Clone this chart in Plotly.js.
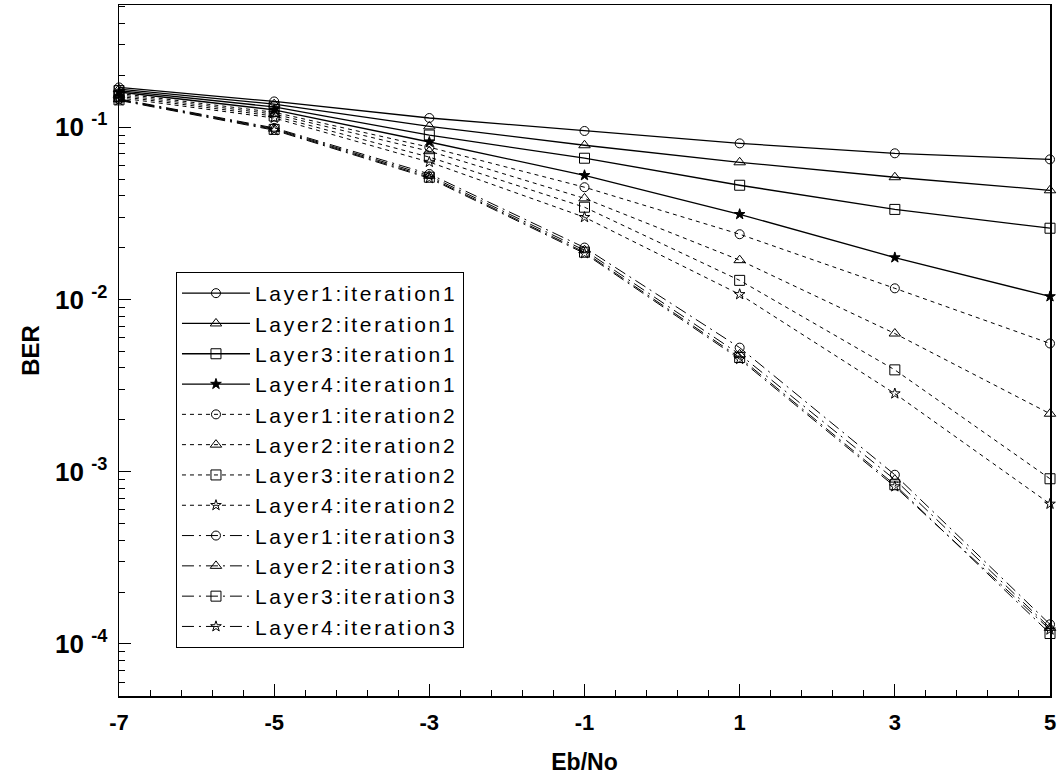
<!DOCTYPE html>
<html>
<head>
<meta charset="utf-8">
<script src="https://cdn.plot.ly/plotly-3.0.1.min.js"></script>
<style>
  html, body { margin: 0; padding: 0; background: #fff; }
  #chart { width: 1058px; height: 780px; }
  .legendtext { letter-spacing: 2.7px; }
</style>
</head>
<body>
<div id="chart"></div>
<script>
// Eb/No (dB)
const ebno = [-7, -5, -3, -1, 1, 3, 5];

// BER values
const layer1_it1 = [0.170, 0.141, 0.113, 0.095, 0.0805, 0.0705, 0.0650];
const layer2_it1 = [0.166, 0.136, 0.101, 0.0785, 0.0625, 0.0512, 0.0430];
const layer3_it1 = [0.163, 0.131, 0.090, 0.066, 0.0460, 0.0333, 0.0259];
const layer4_it1 = [0.160, 0.126, 0.082, 0.0525, 0.0312, 0.0175, 0.0104];
const layer1_it2 = [0.157, 0.122, 0.0765, 0.0448, 0.0239, 0.0116, 0.00555];
const layer2_it2 = [0.154, 0.119, 0.0725, 0.0386, 0.0169, 0.00634, 0.00217];
const layer3_it2 = [0.151, 0.116, 0.0670, 0.0343, 0.0129, 0.0039, 0.00091];
const layer4_it2 = [0.148, 0.113, 0.0627, 0.0300, 0.0107, 0.00284, 0.00065];
const layer1_it3 = [0.146, 0.099, 0.0535, 0.0200, 0.00525, 0.00096, 0.000130];
const layer2_it3 = [0.145, 0.098, 0.0522, 0.0193, 0.00480, 0.00090, 0.000124];
const layer3_it3 = [0.144, 0.097, 0.0512, 0.0188, 0.00460, 0.00084, 0.000115];
const layer4_it3 = [0.143, 0.096, 0.0505, 0.0185, 0.00450, 0.00082, 0.000121];

const seriesNames = [
  'Layer1:iteration1', 'Layer2:iteration1', 'Layer3:iteration1', 'Layer4:iteration1',
  'Layer1:iteration2', 'Layer2:iteration2', 'Layer3:iteration2', 'Layer4:iteration2',
  'Layer1:iteration3', 'Layer2:iteration3', 'Layer3:iteration3', 'Layer4:iteration3'
];
const seriesValues = [
  layer1_it1, layer2_it1, layer3_it1, layer4_it1,
  layer1_it2, layer2_it2, layer3_it2, layer4_it2,
  layer1_it3, layer2_it3, layer3_it3, layer4_it3
];

// tick labels
const yTickVals = [1e-4, 1e-3, 1e-2, 1e-1];
const yTickText = ['10 <sup>-4</sup>', '10 <sup>-3</sup>', '10 <sup>-2</sup>', '10 <sup>-1</sup>'];
const xTickVals = [-7, -5, -3, -1, 1, 3, 5];
const xTickText = ['-7', '-5', '-3', '-1', '1', '3', '5'];

// styles
const dashStyles = ['solid', '4px,4px', '12px,5px,2px,5px'];
const lineWidths = [1.3, 1, 1];
const symbolsIt1 = ['circle-open', 'triangle-up-open', 'square-open', 'star'];
const symbolsOther = ['circle-open', 'triangle-up-open', 'square-open', 'star-open'];
const symbolSizes = [9, 10, 10, 8];

const traces = seriesValues.map((vals, i) => {
  const iter = Math.floor(i / 4);
  const layer = i % 4;
  return {
    x: ebno,
    y: vals,
    name: seriesNames[i],
    type: 'scatter',
    mode: 'lines+markers',
    cliponaxis: false,
    line: { color: '#000', width: lineWidths[iter], dash: dashStyles[iter] },
    marker: {
      symbol: iter === 0 ? symbolsIt1[layer] : symbolsOther[layer],
      size: symbolSizes[layer],
      color: '#000',
      line: { color: '#000', width: 1 }
    }
  };
});

const fam = 'Liberation Sans, Arial, sans-serif';

const layout = {
  width: 1058,
  height: 780,
  margin: { l: 119, r: 8, t: 5, b: 84 },
  paper_bgcolor: '#fff',
  plot_bgcolor: '#fff',
  showlegend: true,
  legend: {
    x: 0.0612, y: 0.6136, xanchor: 'left', yanchor: 'top',
    bgcolor: '#fff', bordercolor: '#000', borderwidth: 1,
    font: { family: fam, size: 21, color: '#000' },
    itemwidth: 68,
    tracegroupgap: 0,
    traceorder: 'normal'
  },
  xaxis: {
    range: [-7, 5],
    tickmode: 'array',
    tickvals: xTickVals,
    ticktext: xTickText,
    ticks: 'inside', ticklen: 12, tickwidth: 1, tickcolor: '#000',
    minor: { dtick: 0.4, tick0: -7, ticks: 'inside', ticklen: 6, tickwidth: 1, tickcolor: '#000' },
    showline: true, linecolor: '#000', linewidth: 1.5, mirror: true,
    showgrid: false, zeroline: false,
    ticklabelstandoff: 6,
    tickfont: { family: fam, size: 22, color: '#000', weight: 'bold' },
    title: { text: 'Eb/No', font: { family: fam, size: 23, color: '#000', weight: 'bold' }, standoff: 20 }
  },
  yaxis: {
    type: 'log',
    range: [-4.302, -0.291],
    tickmode: 'array',
    tickvals: yTickVals,
    ticktext: yTickText,
    ticks: 'inside', ticklen: 12, tickwidth: 1, tickcolor: '#000',
    minor: { dtick: 'D1', ticks: 'inside', ticklen: 6, tickwidth: 1, tickcolor: '#000' },
    showline: true, linecolor: '#000', linewidth: 1.5, mirror: true,
    showgrid: false, zeroline: false,
    ticklabelstandoff: 5,
    tickfont: { family: fam, size: 26, color: '#000', weight: 'bold' },
    title: { text: 'BER', font: { family: fam, size: 24, color: '#000', weight: 'bold' }, standoff: 8 }
  }
};

Plotly.newPlot('chart', traces, layout, { staticPlot: true, displayModeBar: false });
</script>
</body>
</html>
